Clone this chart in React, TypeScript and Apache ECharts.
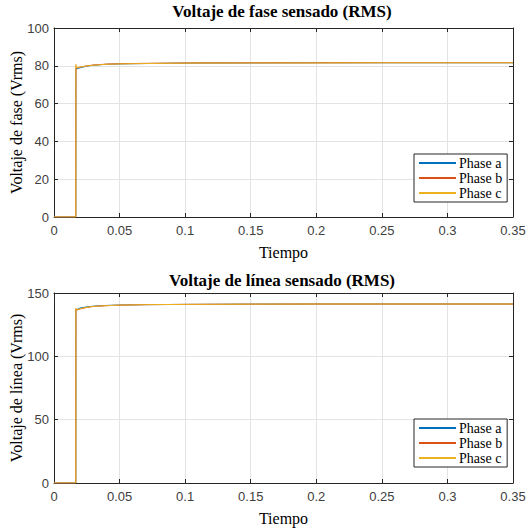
import React, { useEffect, useRef } from "react";
import * as echarts from "echarts";

const times = [0, 0.0166, 0.0167, 0.0175, 0.02, 0.025, 0.03, 0.04, 0.05, 0.07, 0.1, 0.15, 0.2, 0.25, 0.3, 0.35];

const phaseA_top = [0, 0, 78.6, 78.4, 79.0, 79.8, 80.3, 80.8, 81.0, 81.2, 81.4, 81.5, 81.6, 81.6, 81.6, 81.6];
const phaseB_top = [0, 0, 79.2, 78.8, 79.3, 80.0, 80.4, 80.9, 81.1, 81.3, 81.5, 81.6, 81.6, 81.7, 81.7, 81.7];
const phaseC_top = [0, 0, 80.8, 79.0, 79.4, 79.9, 80.3, 80.8, 81.0, 81.2, 81.4, 81.5, 81.5, 81.6, 81.6, 81.6];

const phaseA_bot = [0, 0, 136.8, 137.0, 138.2, 139.0, 139.6, 140.2, 140.5, 140.8, 141.0, 141.2, 141.3, 141.3, 141.3, 141.3];
const phaseB_bot = [0, 0, 137.5, 136.5, 137.4, 138.6, 139.4, 140.0, 140.4, 140.8, 141.0, 141.2, 141.3, 141.3, 141.3, 141.3];
const phaseC_bot = [0, 0, 138.0, 136.8, 137.6, 138.7, 139.4, 140.0, 140.4, 140.8, 141.0, 141.2, 141.3, 141.3, 141.3, 141.3];

const seriesNames = ["Phase a", "Phase b", "Phase c"];
const colors = ["#0072BD", "#D95319", "#EDB120"];

const pairs = (vals: number[]) => times.map((t, i) => [t, vals[i]]);

export default function App() {
  const ref = useRef<HTMLDivElement>(null);
  useEffect(() => {
    if (!ref.current) return;
    const chart = echarts.init(ref.current, undefined, { renderer: "svg" });
    const axisColor = "#262626";
    const serif = "Liberation Serif, Times New Roman, serif";
    const tickLabel = { color: "#404040", fontFamily: "Liberation Sans, Arial, sans-serif", fontSize: 13 };
    const grids = [
      { left: 54, right: 14, top: 28, height: 189, outerBoundsMode: "none", containLabel: false },
      { left: 54, right: 14, top: 293, height: 190, outerBoundsMode: "none", containLabel: false },
    ];
    const xAxis: any[] = [];
    const yAxis: any[] = [];
    const yCfg = [
      { min: 0, max: 100, interval: 20, name: "Voltaje de fase (Vrms)" },
      { min: 0, max: 150, interval: 50, name: "Voltaje de línea (Vrms)" },
    ];
    grids.forEach((g, gi) => {
      xAxis.push({
        type: "value", gridIndex: gi, min: 0, max: 0.35, interval: 0.05, position: "bottom",
        name: "Tiempo", nameLocation: "middle", nameGap: 27, nameMoveOverlap: false,
        nameTextStyle: { fontFamily: serif, fontSize: 16, color: "#000" },
        axisLine: { show: true, lineStyle: { color: axisColor, width: 1 } },
        axisTick: { show: true, inside: true, length: 4, lineStyle: { color: axisColor } },
        axisLabel: { ...tickLabel, margin: 7, formatter: (v: number) => String(Math.round(v * 100) / 100) },
        splitLine: { show: true, lineStyle: { color: "#e3e3e3", width: 1 } },
      });
      xAxis.push({
        type: "value", gridIndex: gi, min: 0, max: 0.35, interval: 0.05, position: "top",
        axisLine: { show: true, onZero: false, lineStyle: { color: axisColor, width: 1 } },
        axisTick: { show: true, inside: true, length: 4, lineStyle: { color: axisColor } },
        axisLabel: { show: false }, splitLine: { show: false },
      });
      yAxis.push({
        type: "value", gridIndex: gi, min: yCfg[gi].min, max: yCfg[gi].max, interval: yCfg[gi].interval, position: "left",
        name: yCfg[gi].name, nameLocation: "middle", nameGap: 30, nameMoveOverlap: false,
        nameTextStyle: { fontFamily: serif, fontSize: 16, color: "#000" },
        axisLine: { show: true, lineStyle: { color: axisColor, width: 1 } },
        axisTick: { show: true, inside: true, length: 4, lineStyle: { color: axisColor } },
        axisLabel: { ...tickLabel, margin: 5 },
        splitLine: { show: true, lineStyle: { color: "#e3e3e3", width: 1 } },
      });
      yAxis.push({
        type: "value", gridIndex: gi, min: yCfg[gi].min, max: yCfg[gi].max, interval: yCfg[gi].interval, position: "right",
        axisLine: { show: true, onZero: false, lineStyle: { color: axisColor, width: 1 } },
        axisTick: { show: true, inside: true, length: 4, lineStyle: { color: axisColor } },
        axisLabel: { show: false }, splitLine: { show: false },
      });
    });
    const data = [
      [phaseA_top, phaseB_top, phaseC_top],
      [phaseA_bot, phaseB_bot, phaseC_bot],
    ];
    const series: any[] = [];
    data.forEach((set, gi) => {
      set.forEach((vals, si) => {
        series.push({
          type: "line", name: seriesNames[si], xAxisIndex: gi * 2, yAxisIndex: gi * 2,
          data: pairs(vals), showSymbol: false, symbol: "none",
          lineStyle: { color: colors[si], width: 1 }, itemStyle: { color: colors[si] },
        });
      });
    });
    const legendBase = {
      orient: "vertical", left: 414, itemWidth: 37, itemHeight: 16, itemGap: 1,
      padding: [2, 5, 2, 4], backgroundColor: "#fff", borderColor: axisColor, borderWidth: 1,
      itemStyle: { opacity: 0 },
      textStyle: { fontFamily: serif, fontSize: 14, color: "#000", padding: [0, 0, 0, -2] },
      data: seriesNames, selectedMode: false,
    };
    const titleStyle = { fontFamily: serif, fontSize: 17, fontWeight: "bold", color: "#000" };
    chart.setOption({
      animation: false,
      title: [
        { text: "Voltaje de fase sensado (RMS)", left: 282, top: 3, padding: 0, textAlign: "center", textStyle: titleStyle },
        { text: "Voltaje de línea sensado (RMS)", left: 282, top: 272, padding: 0, textAlign: "center", textStyle: titleStyle },
      ],
      grid: grids,
      xAxis, yAxis, series,
      legend: [
        { ...legendBase, top: 154 },
        { ...legendBase, top: 419 },
      ],
    });
    return () => chart.dispose();
  }, []);
  return <div ref={ref} style={{ width: 527, height: 529, position: "absolute", left: 0, top: 0, background: "#fff" }} />;
}
